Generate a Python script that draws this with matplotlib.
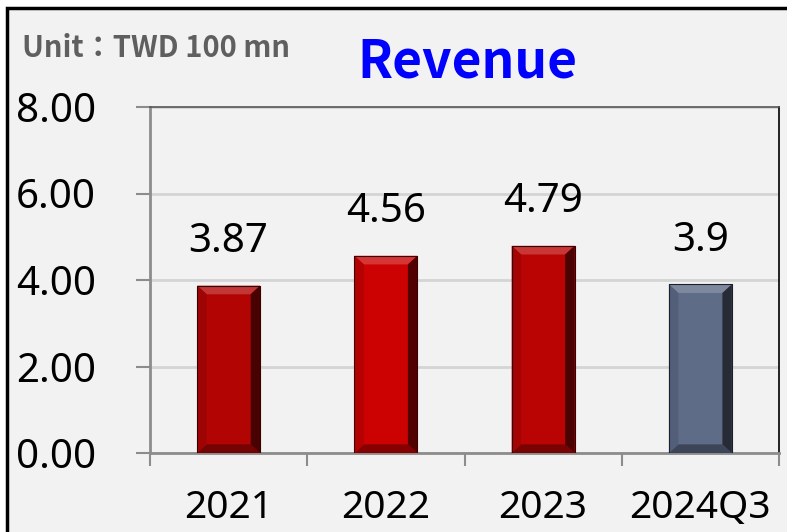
import numpy as np
import matplotlib.pyplot as plt
from matplotlib.patches import Rectangle, Polygon

categories = ['2021', '2022', '2023', '2024Q3']
revenue = [3.87, 4.56, 4.79, 3.9]
labels = ['3.87', '4.56', '4.79', '3.9']
bar_colors = ['#b30404', '#cc0202', '#ba0404', '#5e6c88']
yticks = [0, 2, 4, 6, 8]

plt.rcParams['font.family'] = ['Noto Sans', 'DejaVu Sans']

fig = plt.figure(figsize=(7.87, 5.32), dpi=100)
fig.patch.set_facecolor('white')
# outer frame (runs off the right / bottom edge like the reference crop)
fig.patches.append(Rectangle((7 / 787, -0.05), 1.2, 1 - 8 / 532 + 0.05, transform=fig.transFigure,
                             facecolor='#f2f2f2', edgecolor='black', lw=2.5, zorder=-5))

ax = fig.add_axes([150 / 787, 79 / 532, 629 / 787, 346 / 532])
ax.set_facecolor('#f2f2f2')

x = np.arange(len(categories))
w = 0.4
ax.bar(x, revenue, width=w, color=bar_colors, edgecolor='#300000', lw=0.6, zorder=3)


def shade(c, f):
    c = np.array(plt.matplotlib.colors.to_rgb(c))
    if f > 0:
        return tuple(c + (1 - c) * f)
    return tuple(c * (1 + f))


# bevel effect
bx, by = 0.06, 0.2
for xi, v, col in zip(x, revenue, bar_colors):
    l, r = xi - w / 2, xi + w / 2
    ax.add_patch(Polygon([(l, v), (r, v), (r - bx, v - by), (l + bx, v - by)],
                         facecolor=shade(col, 0.2), lw=0, zorder=4))
    ax.add_patch(Polygon([(l, 0), (r, 0), (r - bx, by), (l + bx, by)],
                         facecolor=shade(col, -0.35), lw=0, zorder=4))
    ax.add_patch(Polygon([(r, 0), (r, v), (r - bx, v - by), (r - bx, by)],
                         facecolor=shade(col, -0.6), lw=0, zorder=4))
    ax.add_patch(Polygon([(l, 0), (l, v), (l + bx, v - by), (l + bx, by)],
                         facecolor=shade(col, -0.12), lw=0, zorder=4))
    ax.add_patch(Rectangle((l, 0), w, v, fill=False, edgecolor=shade(col, -0.7), lw=0.8, zorder=5))

for xi, v, t in zip(x, revenue, labels):
    ax.text(xi, v + 0.55, t, ha='center', va='bottom', fontsize=29, color='black', zorder=6)

ax.set_xlim(-0.5, len(categories) - 0.5)
ax.set_ylim(0, 8)
ax.set_yticks(yticks)
ax.set_yticklabels(['%.2f' % t for t in yticks])
ax.set_xticks(x)
ax.set_xticklabels(categories)
ax.set_xticks(np.arange(len(categories) + 1) - 0.5, minor=True)
ax.tick_params(axis='x', which='major', length=0, pad=26, labelsize=28)
ax.tick_params(axis='x', which='minor', length=9, width=1.5, color='#8c8c8c')
ax.tick_params(axis='y', length=10, width=1.5, color='#8c8c8c', pad=29, labelsize=29)

ax.grid(axis='y', color='#d4d4d4', lw=2, zorder=1)
ax.set_axisbelow(True)
for s in ['left', 'bottom']:
    ax.spines[s].set_color('#8c8c8c')
    ax.spines[s].set_linewidth(2)
ax.spines['top'].set_color('#555555')
ax.spines['top'].set_linewidth(1.2)
ax.spines['right'].set_color('black')
ax.spines['right'].set_linewidth(1.2)

fig.text(22 / 787, 1 - 48 / 532, 'Unit：TWD 100 mn', ha='left', va='center', fontsize=21,
         fontweight='bold', color='#5f5f5f', family=['Noto Sans CJK TC', 'DejaVu Sans'])
fig.text(467 / 787, 1 - 62 / 532, 'Revenue', ha='center', va='center', fontsize=37,
         fontweight='bold', color='#0000ff', family=['Noto Sans CJK TC', 'DejaVu Sans'])

fig.savefig('out.png', dpi=100, facecolor=fig.get_facecolor())
